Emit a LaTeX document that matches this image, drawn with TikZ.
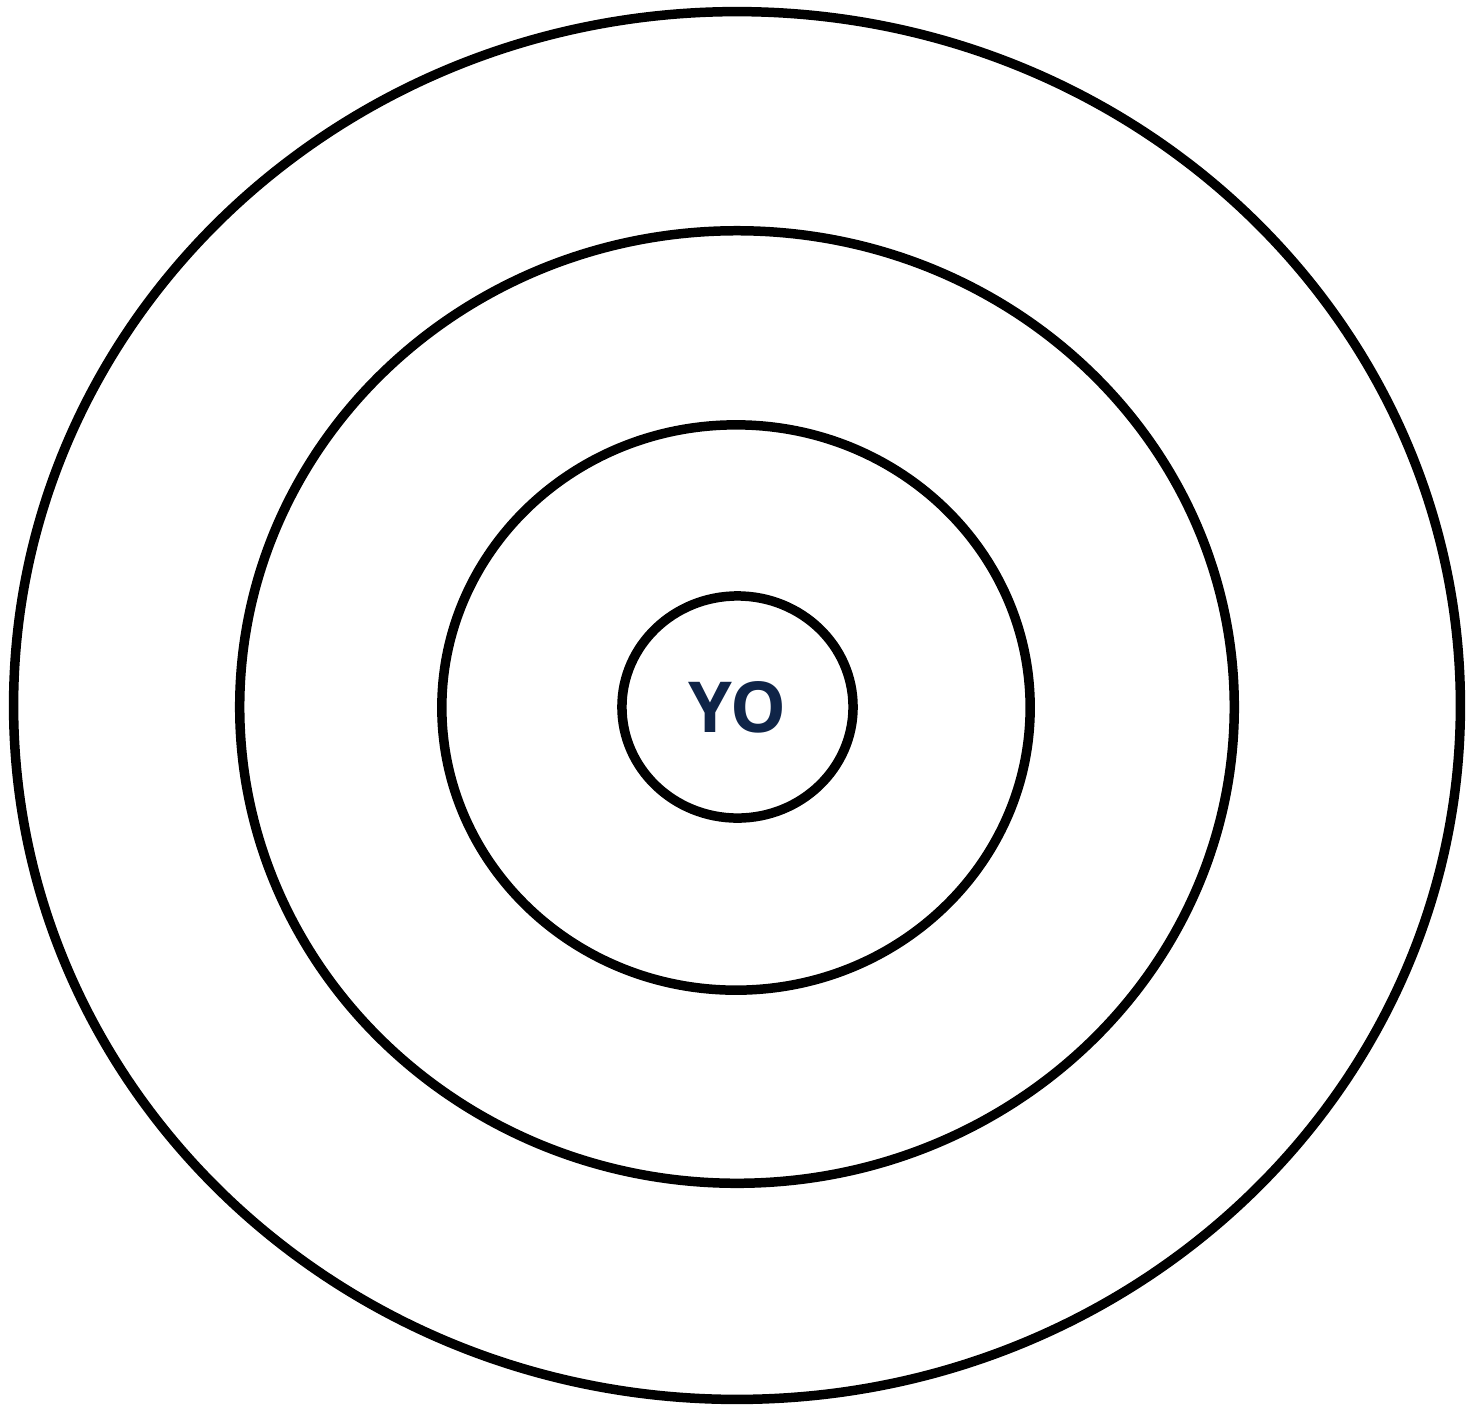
\documentclass[tikz,border=0pt]{standalone}
\usepackage{fontspec}
\newfontfamily\ringfont{Open Sans}
\usetikzlibrary{shapes.geometric}
\definecolor{RingBlack}{HTML}{000000}
\definecolor{YoNavy}{HTML}{0F2447}

\begin{document}
\begin{tikzpicture}[x=0.01cm,y=-0.01cm,
    ring/.style={draw=RingBlack,ellipse,line width=2.7pt,inner sep=0pt}]
  \useasboundingbox (0,0) rectangle (1481,1405);
  % concentric rings, outside in
  \node[ring,minimum width=14.46cm,minimum height=13.87cm] (outer) at (737,705.5) {};
  \node[ring,minimum width=9.94cm,minimum height=9.52cm] (second) at (737,707) {};
  \node[ring,minimum width=5.88cm,minimum height=5.65cm] (third) at (736,707.5) {};
  \node[ring,minimum width=2.31cm,minimum height=2.22cm,
        font=\ringfont\bfseries\fontsize{20}{24}\selectfont,text=YoNavy] (core) at (737.5,707) {YO};
\end{tikzpicture}
\end{document}
